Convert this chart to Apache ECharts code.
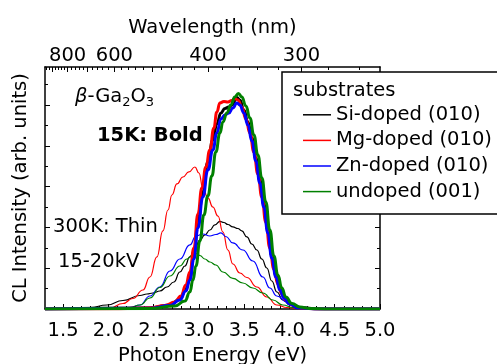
<!DOCTYPE html>
<html><head><meta charset="utf-8">
<script src="https://cdn.jsdelivr.net/npm/echarts@6/dist/echarts.min.js"></script>
<style>html,body{margin:0;padding:0;background:#fff;overflow:hidden}#c{width:497px;height:364px}</style>
</head><body><div id="c"></div>
<script>
// ---- tick definitions ----
const energyMajorTicks = [1.5, 2.0, 2.5, 3.0, 3.5, 4.0, 4.5, 5.0];
const energyMinorTicks = [1.4,1.6,1.7,1.8,1.9,2.1,2.2,2.3,2.4,2.6,2.7,2.8,2.9,3.1,3.2,3.3,3.4,3.6,3.7,3.8,3.9,4.1,4.2,4.3,4.4,4.6,4.7,4.8,4.9];
const wavelengthLabels = [800, 600, 400, 300];
const wavelengthMajorTicks = [900, 800, 700, 600, 500, 400, 300];
const wavelengthMinorTicks = [940,920,880,860,840,820,780,760,740,720,680,660,640,620,580,560,540,520,480,460,440,420,380,360,340,320,280,260];
const intensityMajorTicks = [1, 2, 3, 4, 5];
const intensityMinorTicks = [0.5, 1.5, 2.5, 3.5, 4.5, 5.5];

// ---- legend names ----
const seriesNames = ['Si-doped (010)', 'Mg-doped (010)', 'Zn-doped (010)', 'undoped (001)'];

// ---- 15K (bold) spectra ----
const siBoldE = [1.30,2.46,2.68,2.79,2.856,2.90,2.945,2.989,3.044,3.099,3.154,3.198,3.243,3.287,3.331,3.364,3.419,3.452,3.496,3.541,3.585,3.629,3.673,3.717,3.761,3.805,3.85,3.894,3.938,4.004,4.092,4.335,5.0];
const siBoldI = [0,0.025,0.098,0.245,0.49,0.784,1.348,2.132,2.868,3.603,4.142,4.534,4.804,4.914,4.951,5.0,5.184,5.123,4.877,4.583,4.191,3.701,3.162,2.574,1.936,1.299,0.833,0.515,0.294,0.135,0.037,0,0];

const mgBoldE = [1.30,2.128,2.459,2.625,2.735,2.801,2.856,2.90,2.945,2.989,3.033,3.077,3.121,3.165,3.198,3.232,3.276,3.32,3.364,3.397,3.43,3.474,3.519,3.563,3.607,3.651,3.695,3.739,3.783,3.828,3.872,3.916,3.96,4.026,4.115,4.335,5.0];
const mgBoldI = [0,0.005,0.029,0.086,0.172,0.319,0.588,0.907,1.495,2.328,2.966,3.48,3.897,4.436,4.828,5.049,5.086,5.074,5.11,5.159,5.123,4.951,4.657,4.314,3.848,3.309,2.745,2.132,1.495,0.98,0.613,0.368,0.221,0.098,0.025,0,0];

const znBoldE = [1.30,2.459,2.68,2.79,2.856,2.90,2.945,2.989,3.044,3.099,3.154,3.198,3.243,3.287,3.331,3.375,3.419,3.452,3.496,3.541,3.585,3.629,3.673,3.717,3.761,3.805,3.85,3.894,3.938,4.004,4.092,4.335,5.0];
const znBoldI = [0,0.017,0.086,0.221,0.441,0.711,1.225,1.985,2.745,3.407,3.897,4.314,4.657,4.755,4.804,4.926,5.049,5.0,4.804,4.51,4.118,3.627,3.088,2.5,1.863,1.25,0.784,0.466,0.27,0.123,0.029,0,0];

const unBoldE = [1.30,2.459,2.735,2.845,2.90,2.934,2.967,3.011,3.055,3.099,3.143,3.187,3.232,3.265,3.309,3.353,3.397,3.436,3.474,3.519,3.563,3.607,3.651,3.695,3.739,3.783,3.828,3.872,3.916,3.96,4.026,4.115,4.225,4.446,5.0];
const unBoldI = [0,0.012,0.074,0.196,0.417,0.711,1.054,1.667,2.304,2.77,3.26,3.848,4.314,4.583,4.804,5.0,5.196,5.282,5.196,4.975,4.681,4.265,3.775,3.211,2.623,1.936,1.299,0.833,0.515,0.294,0.135,0.049,0.012,0,0];

// ---- 300K (thin) spectra ----
const siThinE = [1.30,1.576,1.797,1.984,2.161,2.349,2.426,2.492,2.569,2.647,2.724,2.79,2.845,2.90,2.956,3.011,3.066,3.121,3.176,3.232,3.276,3.32,3.375,3.43,3.474,3.53,3.585,3.64,3.695,3.75,3.805,3.861,3.927,4.004,4.081,4.225,5.0];
const siThinI = [0,0.005,0.037,0.098,0.208,0.331,0.368,0.392,0.441,0.539,0.662,0.907,1.054,1.275,1.495,1.691,1.814,1.936,2.059,2.145,2.12,2.071,2.01,1.973,1.912,1.765,1.593,1.446,1.225,1.005,0.686,0.417,0.221,0.098,0.037,0.007,0];

const mgThinE = [1.30,1.797,2.017,2.161,2.271,2.382,2.459,2.536,2.602,2.658,2.702,2.757,2.823,2.889,2.956,3.0,3.044,3.099,3.154,3.21,3.265,3.32,3.375,3.452,3.53,3.64,3.75,3.861,3.971,4.115,4.446,5.0];
const mgThinI = [0,0.005,0.02,0.135,0.257,0.466,0.784,1.275,1.912,2.426,2.794,3.064,3.235,3.358,3.48,3.333,2.966,2.721,2.5,2.279,1.887,1.446,1.103,0.882,0.772,0.539,0.294,0.098,0.037,0.012,0,0];

const znThinE = [1.30,1.907,2.238,2.349,2.459,2.569,2.68,2.79,2.90,2.967,3.044,3.121,3.187,3.243,3.298,3.375,3.485,3.596,3.706,3.783,3.861,3.971,4.081,4.225,5.0];
const znThinI = [0,0.005,0.037,0.098,0.319,0.539,0.931,1.225,1.569,1.789,1.838,1.789,1.826,1.863,1.777,1.618,1.446,1.176,0.784,0.515,0.319,0.172,0.061,0.012,0];

const unThinE = [1.30,1.907,2.238,2.349,2.459,2.569,2.68,2.79,2.867,2.934,2.967,3.011,3.066,3.121,3.187,3.265,3.375,3.485,3.596,3.706,3.817,3.927,4.037,4.225,5.0];
const unThinI = [0,0.005,0.037,0.098,0.27,0.527,0.809,1.054,1.225,1.324,1.36,1.311,1.225,1.152,1.078,0.907,0.748,0.637,0.515,0.392,0.221,0.098,0.037,0.007,0];

// ---- styling ----
const FONT = 'DejaVu Sans';
const FS = 19.5;
const HC = 1239.84;
const colors = ['#000000', '#ff0000', '#0000ff', '#008000'];
const E_MIN = 1.3, E_MAX = 5.0, I_MAX = 5.93;

const pairs = (xs, ys) => xs.map((x, i) => [x, ys[i]]);
const toE = wl => HC / wl;

function lineSeries(name, xs, ys, color, width) {
  return {
    type: 'line', name: name, data: pairs(xs, ys), xAxisIndex: 0, yAxisIndex: 0,
    showSymbol: false, symbol: 'none', smooth: 0.5, smoothMonotone: 'x',
    lineStyle: { color: color, width: width, join: 'round' }, itemStyle: { color: color },
    emphasis: { disabled: true }, silent: true
  };
}

const axisLineStyle = { show: true, onZero: false, lineStyle: { color: '#000', width: 1.5 } };
const noLine = { show: false, onZero: false };
function xAx(pos, ticks, len, showLine, extra) {
  return Object.assign({
    type: 'value', position: pos, min: E_MIN, max: E_MAX,
    axisLine: showLine ? axisLineStyle : noLine,
    axisTick: { show: true, inside: true, length: len, customValues: ticks, lineStyle: { color: '#000', width: 1 } },
    axisLabel: { show: false }, splitLine: { show: false }
  }, extra || {});
}
function yAx(pos, ticks, len, showLine, extra) {
  return Object.assign({
    type: 'value', position: pos, min: 0, max: I_MAX,
    axisLine: showLine ? axisLineStyle : noLine,
    axisTick: { show: true, inside: true, length: len, customValues: ticks, lineStyle: { color: '#000', width: 1 } },
    axisLabel: { show: false }, splitLine: { show: false }
  }, extra || {});
}
const txt = { fontFamily: FONT, fontSize: FS, color: '#000' };

const option = {
  animation: false,
  backgroundColor: '#fff',
  grid: { left: 45, right: 117, top: 67, bottom: 55, containLabel: false, outerBoundsMode: 'none' },
  xAxis: [
    xAx('bottom', energyMajorTicks, 5, true, {
      axisLabel: { show: true, customValues: energyMajorTicks, formatter: v => v.toFixed(1), margin: 12, fontFamily: FONT, fontSize: FS, color: '#000' },
      name: 'Photon Energy (eV)', nameLocation: 'middle', nameGap: 36, nameTextStyle: txt
    }),
    xAx('bottom', energyMinorTicks, 3, false),
    xAx('top', wavelengthMajorTicks.map(toE), 5, true, {
      axisLabel: { show: true, customValues: wavelengthLabels.map(toE), formatter: v => String(Math.round(HC / v)), margin: 1, fontFamily: FONT, fontSize: FS, color: '#000' },
      name: 'Wavelength (nm)', nameLocation: 'middle', nameGap: 29, nameTextStyle: txt
    }),
    xAx('top', wavelengthMinorTicks.map(toE), 3, false)
  ],
  yAxis: [
    yAx('left', intensityMajorTicks, 5, true, {
      name: 'CL Intensity (arb. units)', nameLocation: 'middle', nameGap: 14, nameRotate: 90, nameTextStyle: txt
    }),
    yAx('left', intensityMinorTicks, 3, false),
    yAx('right', intensityMajorTicks, 5, true),
    yAx('right', intensityMinorTicks, 3, false)
  ],
  legend: {
    data: seriesNames, orient: 'vertical', left: 303, top: 102, padding: 0, itemGap: 0,
    icon: 'rect', itemWidth: 28, itemHeight: 1.5, selectedMode: false, z: 20,
    textStyle: { fontFamily: FONT, fontSize: FS, color: '#000', lineHeight: 25.6 }
  },
  graphic: [
    { type: 'rect', z: 15, shape: { x: 282, y: 72, width: 300, height: 142 }, style: { fill: '#fff', stroke: '#000', lineWidth: 1.5 } },
    { type: 'text', z: 20, x: 293, y: 91, style: { text: 'substrates', fontFamily: FONT, fontSize: FS, fill: '#000', verticalAlign: 'middle', align: 'left' } },
    { type: 'text', z: 20, x: 75, y: 97, style: {
        text: '{b|β}{n|-Ga}{s|2}{n|O}{s|3}', verticalAlign: 'middle', align: 'left',
        rich: {
          b: { fontFamily: FONT, fontSize: FS, fontStyle: 'italic', fill: '#000', lineHeight: 24, verticalAlign: 'middle' },
          n: { fontFamily: FONT, fontSize: FS, fill: '#000', lineHeight: 24, verticalAlign: 'middle' },
          s: { fontFamily: FONT, fontSize: 13, fill: '#000', lineHeight: 13, verticalAlign: 'bottom' }
        } } },
    { type: 'text', z: 20, x: 97, y: 136, style: { text: '15K: Bold', fontFamily: FONT, fontSize: FS, fontWeight: 'bold', fill: '#000', verticalAlign: 'middle', align: 'left' } },
    { type: 'text', z: 20, x: 53, y: 227, style: { text: '300K: Thin', fontFamily: FONT, fontSize: FS, fill: '#000', verticalAlign: 'middle', align: 'left' } },
    { type: 'text', z: 20, x: 58, y: 262, style: { text: '15-20kV', fontFamily: FONT, fontSize: FS, fill: '#000', verticalAlign: 'middle', align: 'left' } }
  ],
  series: [
    lineSeries(seriesNames[0], siThinE, siThinI, colors[0], 1.2),
    lineSeries(seriesNames[1], mgThinE, mgThinI, colors[1], 1.2),
    lineSeries(seriesNames[2], znThinE, znThinI, colors[2], 1.2),
    lineSeries(seriesNames[3], unThinE, unThinI, colors[3], 1.2),
    lineSeries(seriesNames[0] + ' 15K', siBoldE, siBoldI, colors[0], 3),
    lineSeries(seriesNames[1] + ' 15K', mgBoldE, mgBoldI, colors[1], 3),
    lineSeries(seriesNames[2] + ' 15K', znBoldE, znBoldI, colors[2], 3),
    lineSeries(seriesNames[3] + ' 15K', unBoldE, unBoldI, colors[3], 3)
  ]
};
const chart = echarts.init(document.getElementById('c'), null, { renderer: 'canvas' });
chart.setOption(option);
</script></body></html>
